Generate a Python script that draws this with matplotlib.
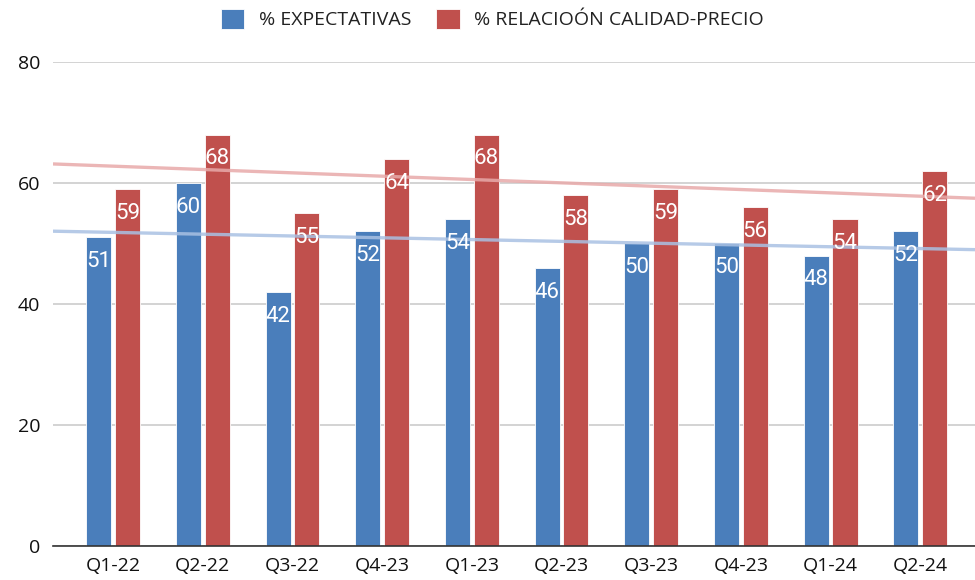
import numpy as np
import matplotlib
matplotlib.use("Agg")
import matplotlib.pyplot as plt

categories = ["Q1-22", "Q2-22", "Q3-22", "Q4-23", "Q1-23", "Q2-23", "Q3-23", "Q4-23", "Q1-24", "Q2-24"]
expectativas = [51, 60, 42, 52, 54, 46, 50, 50, 48, 52]
calidad_precio = [59, 68, 55, 64, 68, 58, 59, 56, 54, 62]
series_names = ["% EXPECTATIVAS", "% RELACIOÓN CALIDAD-PRECIO"]
yticks = [0, 20, 40, 60, 80]

BLUE = "#4a7ebb"
RED = "#c0504d"

fig = plt.figure(figsize=(9.75, 5.8), dpi=100)
ax = fig.add_axes([53 / 975, 1 - 546 / 580, 1 - 53 / 975, (546 - 62) / 580])

x = np.arange(len(categories))
w = 0.28
off = 0.16
b1 = ax.bar(x - off, expectativas, w, color=BLUE, zorder=2, label=series_names[0],
            edgecolor="white", linewidth=0.6)
b2 = ax.bar(x + off, calidad_precio, w, color=RED, zorder=2, label=series_names[1],
            edgecolor="white", linewidth=0.6)

xmin, xmax = -0.67, 9.61
xx = np.array([xmin, xmax])
for vals, col in [(expectativas, "#a9c1e3"), (calidad_precio, "#e8aaaa")]:
    p = np.polyfit(x, vals, 1)
    ax.plot(xx, np.polyval(p, xx), color=col, lw=2.4, alpha=0.85, zorder=3,
            solid_capstyle="butt")

for bars, vals in [(b1, expectativas), (b2, calidad_precio)]:
    for r, v in zip(bars, vals):
        ax.annotate(str(v), (r.get_x() + r.get_width() / 2, v), xytext=(0, -17.5),
                    textcoords="offset points", ha="center", va="center",
                    color="white", fontsize=16, family="Roboto", zorder=4)

ax.set_xlim(xmin, xmax)
ax.set_ylim(0, 80)
ax.set_yticks(yticks)
ax.set_xticks(x)
ax.set_xticklabels(categories, family="Open Sans", fontsize=14, color="#111111")
ax.set_yticklabels([str(t) for t in yticks], family="Open Sans", fontsize=14, color="#111111")
ax.tick_params(axis="both", length=0)
ax.tick_params(axis="x", pad=8)
ax.tick_params(axis="y", pad=9)
for s in ["top", "right", "left"]:
    ax.spines[s].set_visible(False)
ax.spines["bottom"].set_color("#333333")
ax.spines["bottom"].set_linewidth(1.2)
ax.spines["bottom"].set_zorder(5)
ax.yaxis.grid(True, color="#cccccc", lw=1.2, zorder=0)
ax.set_axisbelow(True)

leg = fig.legend(handles=[b1, b2], labels=series_names, loc="upper center",
                 bbox_to_anchor=(0.505, 1.015), ncol=2, frameon=False,
                 prop={"family": "Open Sans", "size": 14},
                 handlelength=1.2, handleheight=1.2, columnspacing=1.3,
                 handletextpad=0.75)
for t in leg.get_texts():
    t.set_color("#222222")

fig.savefig("out.png", dpi=100)
